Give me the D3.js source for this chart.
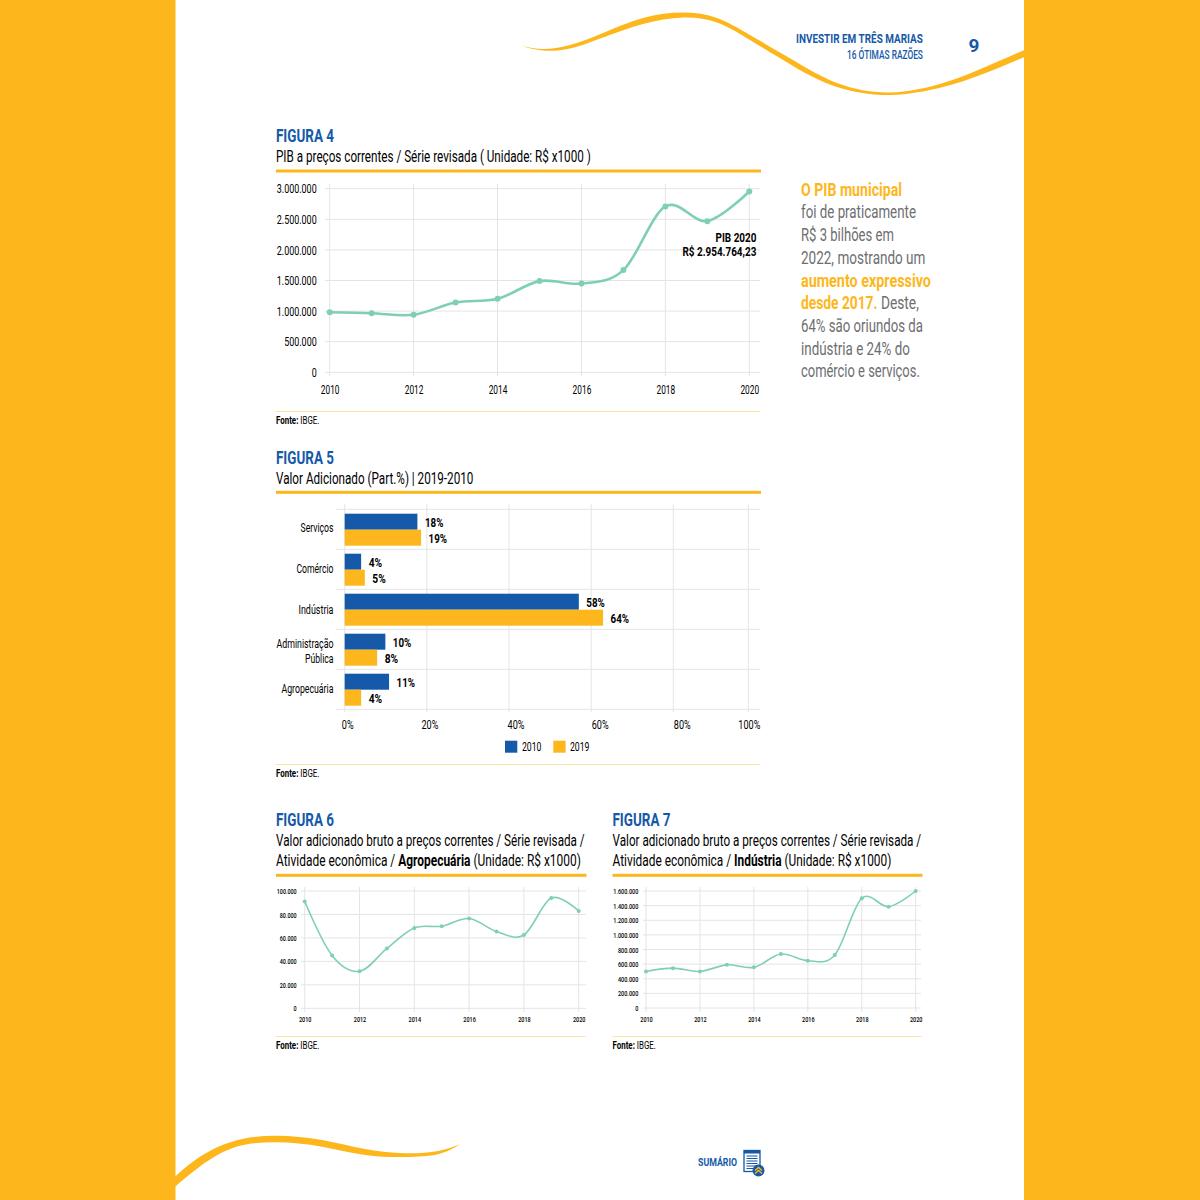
<!DOCTYPE html>
<html>
<head>
<meta charset="utf-8">
<script src="https://cdn.jsdelivr.net/npm/d3@7"></script>
<style>
  html, body { margin: 0; padding: 0; background: #fff; }
  text { font-family: "Liberation Sans Narrow", "Roboto", sans-serif; }
</style>
</head>
<body>
<svg id="page" width="1200" height="1200"></svg>
<script>
// data
const years = [2010, 2011, 2012, 2013, 2014, 2015, 2016, 2017, 2018, 2019, 2020];
const yearTicks = [2010, 2012, 2014, 2016, 2018, 2020];

const pibValues = [980000, 965000, 940000, 1140000, 1200000, 1490000, 1450000, 1670000, 2710000, 2470000, 2955000];
const pibTicks = [0, 500000, 1000000, 1500000, 2000000, 2500000, 3000000];

const agroValues = [91000, 45000, 31500, 51000, 68500, 70000, 76500, 65500, 62500, 94000, 83000];
const agroTicks = [0, 20000, 40000, 60000, 80000, 100000];

const induValues = [500000, 545000, 500000, 590000, 556000, 738000, 647000, 725000, 1500000, 1385000, 1600000];
const induTicks = [0, 200000, 400000, 600000, 800000, 1000000, 1200000, 1400000, 1600000];

const sectors = ["Serviços", "Comércio", "Indústria", "Administração Pública", "Agropecuária"];
const values2010 = [17.7, 4, 57, 9.9, 10.8];
const values2019 = [18.6, 4.9, 62.9, 7.9, 4];
const labels2010 = ["18%", "4%", "58%", "10%", "11%"];
const labels2019 = ["19%", "5%", "64%", "8%", "4%"];
const pctTicks = [0, 20, 40, 60, 80, 100];

const BLUE = "#1559a8";
const ORANGE = "#fdb71c";
const TEAL = "#7fcfb8";
const GRID = "#e4e4e4";
const GRAY = "#6d6e71";

const svg = d3.select("#page");
const ptBR = d3.formatLocale({ decimal: ",", thousands: ".", grouping: [3], currency: ["R$", ""] });
const fmt = ptBR.format(",d");

// text squeezed to the width it has in the picture
function fitText(x, y, parts, width, size, anchor) {
  const t = svg.append("text").attr("font-size", size);
  parts.forEach(function (p) {
    t.append("tspan")
      .text(p.t)
      .attr("fill", p.c || "#000")
      .attr("font-weight", p.b ? 700 : (p.w || 400));
  });
  const k = width / t.node().getComputedTextLength();
  const left = anchor === "end" ? x - width : x;
  t.attr("transform", "translate(" + left + "," + y + ") scale(" + k + ",1)");
  return t;
}

function fitAxisText(g, width, weight) {
  const labels = g.selectAll("text").attr("font-weight", weight || 400);
  const longest = d3.max(labels.nodes(), function (n) { return n.getComputedTextLength(); });
  const k = width / longest;
  labels.each(function () {
    const el = d3.select(this);
    const ax = +el.attr("x") || 0;
    const ay = +el.attr("y") || 0;
    el.attr("x", null).attr("y", null)
      .attr("transform", "translate(" + ax + "," + ay + ") scale(" + k + ",1)");
  });
}

function heading(x, base, num, numW, lines, ruleY, ruleW, fonteY) {
  fitText(x, base, [{ t: "FIGURA " + num, b: true, c: BLUE }], numW, 19);
  lines.forEach(function (l, i) {
    fitText(x, base + 20 + i * 19.5, l.parts, l.w, 17);
  });
  svg.append("rect").attr("x", x).attr("y", ruleY - 1.5).attr("width", ruleW).attr("height", 3).attr("fill", ORANGE);
  svg.append("rect").attr("x", x).attr("y", Math.round(fonteY - 12.5)).attr("width", ruleW - 1).attr("height", 1).attr("fill", "#fde3a0");
  fitText(x, fonteY, [{ t: "Fonte: ", b: true }, { t: "IBGE." }], 43.5, 10.5);
}

function lineChart(o) {
  const x = d3.scaleLinear().domain([2010, 2020]).range(o.xr);
  const y = d3.scaleLinear().domain([0, d3.max(o.ticks)]).range(o.yr);
  const g = svg.append("g");

  g.selectAll(".h").data(o.ticks).enter().append("line")
    .attr("x1", o.gl).attr("x2", o.gr)
    .attr("y1", function (d) { return y(d); }).attr("y2", function (d) { return y(d); })
    .attr("stroke", GRID);
  g.selectAll(".v").data(yearTicks).enter().append("line")
    .attr("x1", function (d) { return x(d); }).attr("x2", function (d) { return x(d); })
    .attr("y1", o.gt).attr("y2", o.gb)
    .attr("stroke", GRID);

  const yAxis = g.append("g")
    .attr("transform", "translate(" + o.labelRight + ",0)")
    .call(d3.axisLeft(y).tickValues(o.ticks).tickFormat(fmt).tickSize(0).tickPadding(0));
  yAxis.select(".domain").remove();
  yAxis.selectAll("text").attr("font-size", o.fs).attr("fill", "#000");
  fitAxisText(yAxis, o.yw, o.weight);

  const xAxis = g.append("g")
    .attr("transform", "translate(0," + o.xAxisY + ")")
    .call(d3.axisBottom(x).tickValues(yearTicks).tickFormat(d3.format("d")).tickSize(0).tickPadding(0));
  xAxis.select(".domain").remove();
  xAxis.selectAll("text").attr("font-size", o.fs).attr("fill", "#000");
  fitAxisText(xAxis, o.xw, o.weight);

  const line = d3.line()
    .x(function (d, i) { return x(years[i]); })
    .y(function (d) { return y(d); })
    .curve(d3.curveCardinal.tension(0));
  g.append("path").attr("d", line(o.values)).attr("fill", "none")
    .attr("stroke", TEAL).attr("stroke-width", o.sw);
  g.selectAll("circle").data(o.values).enter().append("circle")
    .attr("cx", function (d, i) { return x(years[i]); })
    .attr("cy", function (d) { return y(d); })
    .attr("r", o.r).attr("fill", TEAL);
}

// page furniture
svg.append("rect").attr("width", 175.5).attr("height", 1200).attr("fill", ORANGE);
svg.append("rect").attr("x", 1024).attr("width", 176).attr("height", 1200).attr("fill", ORANGE);

function swoosh(upper, lower) {
  const edge = d3.line().curve(d3.curveNatural);
  const a = edge(upper);
  const b = edge(lower.slice().reverse());
  svg.append("path").attr("d", a + "L" + b.slice(1) + "Z").attr("fill", ORANGE);
}
const topOut = [[522, 46], [543, 49], [570, 45], [603, 33], [643, 18], [683, 12.5], [717, 18], [750, 35], [793, 60], [837, 83], [890, 92.5], [943, 83], [983, 68], [1024.5, 50]];
const topIn = [[522, 46], [543, 50.5], [570, 48.5], [603, 37.5], [643, 24], [683, 17.5], [717, 22.5], [750, 40], [793, 66], [837, 87], [890, 95], [943, 87], [983, 74], [1024.5, 57]];
swoosh(topOut, topIn);
const botOut = [[175, 1176.7], [198, 1158], [232, 1141.7], [275, 1135.7], [322, 1140], [365, 1149], [405, 1153.3], [438, 1151], [460, 1144.3]];
const botIn = [[175, 1186.7], [198, 1168], [232, 1148.3], [275, 1142.3], [322, 1146.7], [365, 1155], [405, 1157], [438, 1154.3], [460, 1144.3]];
swoosh(botOut, botIn);

fitText(923, 42.7, [{ t: "INVESTIR EM TRÊS MARIAS", b: true, c: BLUE }], 127, 13.5, "end");
fitText(923, 59, [{ t: "16 ÓTIMAS RAZÕES", c: BLUE, w: 500 }], 76, 13, "end");
svg.append("text").attr("x", 974).attr("y", 51.5).attr("text-anchor", "middle")
  .attr("font-size", 19).attr("font-weight", 700).attr("fill", BLUE)
  .style("font-family", "Roboto, sans-serif").text("9");

// figura 4
heading(276, 142, 4, 58, [
  { parts: [{ t: "PIB a preços correntes / Série revisada ( Unidade: R$ x1000 )" }], w: 315 }
], 171, 485, 423.5);
lineChart({
  values: pibValues, ticks: pibTicks,
  xr: [329.7, 749.3], yr: [372.3, 188.7],
  gl: 325, gr: 760, gt: 184, gb: 376,
  labelRight: 316.7, xAxisY: 385, fs: 13, yw: 40, xw: 18.7, sw: 2.6, r: 3
});
fitText(756.5, 241.5, [{ t: "PIB 2020", b: true }], 41, 12.5, "end");
fitText(756.5, 256, [{ t: "R$ 2.954.764,23", b: true }], 74, 12.5, "end");

// side text
const sideLines = [
  { w: 101, parts: [{ t: "O PIB municipal", b: true, c: ORANGE }] },
  { w: 115, parts: [{ t: "foi de praticamente", c: GRAY }] },
  { w: 93, parts: [{ t: "R$ 3 bilhões em", c: GRAY }] },
  { w: 124.5, parts: [{ t: "2022, mostrando um", c: GRAY }] },
  { w: 130, parts: [{ t: "aumento expressivo", b: true, c: ORANGE }] },
  { w: 118, parts: [{ t: "desde 2017.", b: true, c: ORANGE }, { t: " Deste,", c: GRAY }] },
  { w: 122, parts: [{ t: "64% são oriundos da", c: GRAY }] },
  { w: 109, parts: [{ t: "indústria e 24% do", c: GRAY }] },
  { w: 119, parts: [{ t: "comércio e serviços.", c: GRAY }] }
];
sideLines.forEach(function (l, i) {
  fitText(801, 195.7 + i * 22.7, l.parts, l.w, 18);
});

// figura 5
heading(276, 464, 5, 58, [
  { parts: [{ t: "Valor Adicionado (Part.%) | 2019-2010" }], w: 197.5 }
], 492.3, 485, 776.7);

// the 100% gridline in the picture sits closer than the others
const xPct = d3.scaleLinear().domain([0, 80, 100]).range([344.7, 673.3, 748.3]);
const yBand = d3.scaleBand().domain(sectors).range([509.3, 709.3]);
const barH = 16;
const fig5 = svg.append("g");

fig5.selectAll(".h").data(sectors.concat(["end"])).enter().append("line")
  .attr("x1", 336).attr("x2", 760)
  .attr("y1", function (d, i) { return 509.3 + i * yBand.bandwidth(); })
  .attr("y2", function (d, i) { return 509.3 + i * yBand.bandwidth(); })
  .attr("stroke", GRID);
fig5.selectAll(".v").data(pctTicks).enter().append("line")
  .attr("x1", function (d) { return xPct(d); }).attr("x2", function (d) { return xPct(d); })
  .attr("y1", 504).attr("y2", 712)
  .attr("stroke", GRID);

[[values2010, labels2010, BLUE, 0], [values2019, labels2019, ORANGE, 1]].forEach(function (s) {
  fig5.selectAll(".bar" + s[3]).data(s[0]).enter().append("rect")
    .attr("x", xPct(0))
    .attr("y", function (d, i) { return yBand(sectors[i]) + 4.4 + s[3] * barH; })
    .attr("width", function (d) { return xPct(d) - xPct(0); })
    .attr("height", barH)
    .attr("fill", s[2]);
  s[0].forEach(function (v, i) {
    const w = s[1][i].length === 3 ? 18.5 : 13.5;
    fitText(xPct(v) + 7.5, yBand(sectors[i]) + 4.4 + s[3] * barH + 13, [{ t: s[1][i], b: true }], w, 12);
  });
});

// category labels, right aligned
const catWidths = { "Serviços": 33, "Comércio": 37, "Indústria": 35, "Agropecuária": 52 };
const catY = [531.5, 572.5, 613.5, 0, 692.5];
sectors.forEach(function (s, i) {
  if (catWidths[s]) fitText(333.5, catY[i], [{ t: s }], catWidths[s], 12.5, "end");
});
fitText(333.5, 648, [{ t: "Administração" }], 57, 12.5, "end");
fitText(333.5, 663, [{ t: "Pública" }], 28.5, 12.5, "end");

// tick labels sit off their gridlines in the picture
const pctLabelDx = [3, 3, 7, 9, 9, 1];
const xAxis5 = svg.append("g").attr("transform", "translate(0,720)")
  .call(d3.axisBottom(xPct).tickValues(pctTicks).tickFormat(function (d) { return d + "%"; }).tickSize(0).tickPadding(0));
xAxis5.select(".domain").remove();
xAxis5.selectAll("text").attr("font-size", 12.5).attr("fill", "#000");
fitAxisText(xAxis5, 22);
xAxis5.selectAll(".tick").attr("transform", function (d, i) {
  return "translate(" + (xPct(d) + pctLabelDx[i]) + ",0)";
});

svg.append("rect").attr("x", 505).attr("y", 740.7).attr("width", 12.3).attr("height", 12).attr("fill", BLUE);
fitText(522, 750.5, [{ t: "2010" }], 19.5, 12.5);
svg.append("rect").attr("x", 553.3).attr("y", 740.7).attr("width", 12.3).attr("height", 12).attr("fill", ORANGE);
fitText(570, 750.5, [{ t: "2019" }], 19.5, 12.5);

// figura 6
heading(276, 826.3, 6, 58, [
  { parts: [{ t: "Valor adicionado bruto a preços correntes / Série revisada /" }], w: 309 },
  { parts: [{ t: "Atividade econômica / " }, { t: "Agropecuária", b: true }, { t: " (Unidade: R$ x1000)" }], w: 305 }
], 875.3, 310.5, 1048.5);
lineChart({
  values: agroValues, ticks: agroTicks,
  xr: [304.7, 578.7], yr: [1008.3, 891],
  gl: 301, gr: 586, gt: 887, gb: 1012,
  labelRight: 296.7, xAxisY: 1016, fs: 8, yw: 20, xw: 12.5, sw: 1.6, r: 2, weight: 500
});

// figura 7
heading(612.5, 826.3, 7, 58, [
  { parts: [{ t: "Valor adicionado bruto a preços correntes / Série revisada /" }], w: 309 },
  { parts: [{ t: "Atividade econômica / " }, { t: "Indústria", b: true }, { t: " (Unidade: R$ x1000)" }], w: 279 }
], 875.3, 310, 1048.5);
lineChart({
  values: induValues, ticks: induTicks,
  xr: [646, 915.7], yr: [1008, 891],
  gl: 643, gr: 921, gt: 887, gb: 1012,
  labelRight: 638.3, xAxisY: 1016, fs: 8, yw: 25, xw: 12.5, sw: 1.6, r: 2, weight: 500
});

// sumario link
fitText(698, 1166, [{ t: "SUMÁRIO", b: true, c: BLUE }], 39, 11.5);
svg.append("rect").attr("x", 744).attr("y", 1150.5).attr("width", 16).attr("height", 21)
  .attr("fill", "#fff").attr("stroke", BLUE).attr("stroke-width", 1.3);
svg.append("rect").attr("x", 744).attr("y", 1150.5).attr("width", 16).attr("height", 3).attr("fill", BLUE);
d3.range(6).forEach(function (i) {
  svg.append("line").attr("x1", 746.5).attr("x2", 757.5)
    .attr("y1", 1156 + i * 2.5).attr("y2", 1156 + i * 2.5)
    .attr("stroke", BLUE).attr("stroke-width", 1);
});
svg.append("circle").attr("cx", 758.5).attr("cy", 1170.5).attr("r", 6).attr("fill", BLUE);
[0, 3].forEach(function (d) {
  svg.append("path")
    .attr("d", "M755 " + (1171.5 + d - 1) + "L758.5 " + (1168.5 + d - 1) + "L762 " + (1171.5 + d - 1))
    .attr("fill", "none").attr("stroke", ORANGE).attr("stroke-width", 1.4);
});
</script>
</body>
</html>
